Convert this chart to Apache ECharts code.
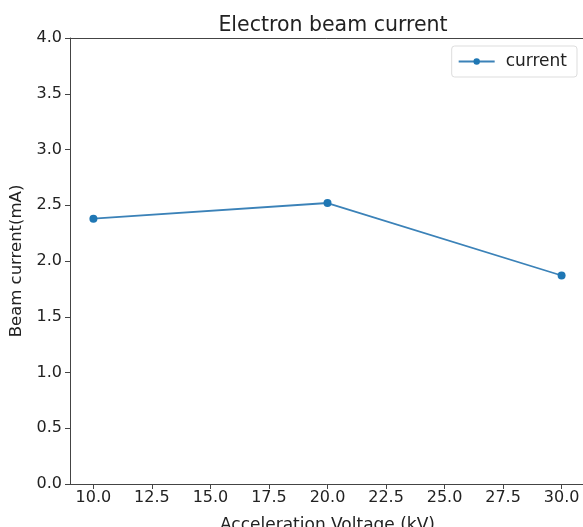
<!DOCTYPE html>
<html>
<head>
<meta charset="utf-8">
<script src="https://cdn.jsdelivr.net/npm/echarts@6/dist/echarts.min.js"></script>
<style>html,body{margin:0;padding:0;background:#fff;}#c{width:583px;height:527px;}</style>
</head>
<body>
<div id="c"></div>
<script>
const voltages = [10, 20, 30];
const currents = [2.38, 2.52, 1.87];
const xTicks = [10, 12.5, 15, 17.5, 20, 22.5, 25, 27.5, 30];
const titleText = 'Electron beam current';
const seriesName = 'current';
const xName = 'Acceleration Voltage (kV)';
const yName = 'Beam current(mA)';

const font = 'DejaVu Sans';
const chart = echarts.init(document.getElementById('c'), null, {renderer: 'canvas'});
chart.setOption({
  animation: false,
  backgroundColor: '#fff',
  title: {
    text: titleText, left: 328, top: 10, textAlign: 'center',
    textStyle: {fontFamily: font, fontSize: 20.5, fontWeight: 'normal', color: '#222'}
  },
  legend: {
    data: [seriesName], right: 6, top: 46,
    borderColor: '#ddd', borderWidth: 1, borderRadius: 3,
    padding: [7, 10, 7, 6], itemWidth: 36, itemHeight: 8, itemGap: 8,
    textStyle: {fontFamily: font, fontSize: 17, color: '#222', padding: [0, 0, 0, 6]}
  },
  grid: {left: 70, top: 38, width: 515, height: 446, show: false,
    containLabel: false, outerBoundsMode: 'none'},
  xAxis: [{
    type: 'value', min: 9, max: 31,
    name: xName, nameLocation: 'middle', nameGap: 33,
    nameTextStyle: {fontFamily: font, fontSize: 17, color: '#222'},
    axisLine: {show: true, lineStyle: {color: '#444'}},
    axisTick: {show: true, inside: false, length: 5, lineStyle: {color: '#444'}, customValues: xTicks},
    axisLabel: {fontFamily: font, fontSize: 16, color: '#222', margin: 6, customValues: xTicks,
      formatter: v => v.toFixed(1)},
    splitLine: {show: false}
  }, {
    type: 'value', min: 9, max: 31, position: 'top',
    axisLine: {show: true, lineStyle: {color: '#444'}},
    axisTick: {show: false}, axisLabel: {show: false}, splitLine: {show: false}
  }],
  yAxis: {
    type: 'value', min: 0, max: 4, interval: 0.5,
    name: yName, nameLocation: 'middle', nameGap: 45,
    nameTextStyle: {fontFamily: font, fontSize: 16.5, color: '#222'},
    axisLine: {show: true, lineStyle: {color: '#444'}},
    axisTick: {show: true, inside: false, length: 5, lineStyle: {color: '#444'}},
    axisLabel: {fontFamily: font, fontSize: 16, color: '#222', margin: 8, formatter: v => v.toFixed(1)},
    splitLine: {show: false}
  },
  series: [{
    name: seriesName, type: 'line', xAxisIndex: 0,
    data: voltages.map((v, i) => [v, currents[i]]),
    symbol: 'circle', symbolSize: 8,
    lineStyle: {color: '#3b82b8', width: 1.8},
    itemStyle: {color: '#1f77b4'}
  }]
});
</script>
</body>
</html>
